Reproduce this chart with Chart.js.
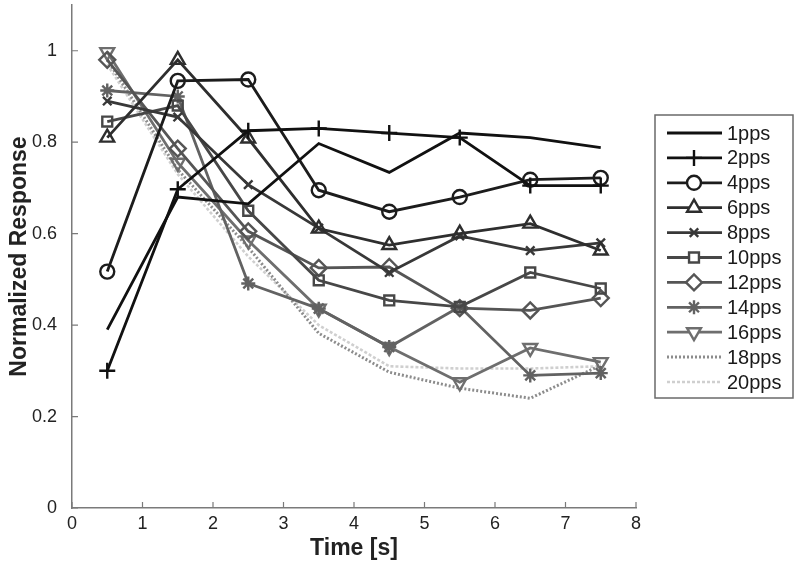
<!DOCTYPE html>
<html>
<head>
<meta charset="utf-8">
<script src="https://cdn.jsdelivr.net/npm/chart.js@4.4.1/dist/chart.umd.min.js"></script>
<style>
  html, body { margin: 0; padding: 0; background: #fff; }
  #wrap { width: 800px; height: 570px; }
</style>
</head>
<body>
<div id="wrap"><canvas id="canvas1" width="800" height="570"></canvas></div>
<script>
// time points (s)
var times = [0.5, 1.5, 2.5, 3.5, 4.5, 5.5, 6.5, 7.5];

// normalized response per stimulation rate
var r1pps  = [0.39, 0.68, 0.665, 0.797, 0.734, 0.82, 0.81, 0.788];
var r2pps  = [0.30, 0.697, 0.825, 0.83, 0.82, 0.81, 0.705, 0.705];
var r4pps  = [0.517, 0.934, 0.937, 0.695, 0.648, 0.68, 0.718, 0.722];
var r6pps  = [0.81, 0.98, 0.808, 0.611, 0.575, 0.60, 0.622, 0.563];
var r8pps  = [0.89, 0.855, 0.707, 0.612, 0.515, 0.595, 0.563, 0.58];
var r10pps = [0.845, 0.88, 0.65, 0.498, 0.454, 0.44, 0.515, 0.48];
var r12pps = [0.98, 0.786, 0.605, 0.525, 0.527, 0.437, 0.432, 0.459];
var r14pps = [0.913, 0.90, 0.491, 0.436, 0.352, 0.44, 0.29, 0.295];
var r16pps = [0.997, 0.755, 0.585, 0.436, 0.352, 0.275, 0.35, 0.319];
var r18pps = [0.98, 0.74, 0.57, 0.382, 0.297, 0.262, 0.24, 0.312];
var r20pps = [0.97, 0.73, 0.55, 0.40, 0.31, 0.305, 0.305, 0.31];

var xTicks = [0, 1, 2, 3, 4, 5, 6, 7, 8];
var yTicks = [0, 0.2, 0.4, 0.6, 0.8, 1];

var FONT = '"Liberation Sans", Arial, sans-serif';

function pts(vals) {
  return vals.map(function(v, i){ return {x: times[i], y: v}; });
}

function series(label, vals, color, style, extra) {
  var ds = {
    label: label,
    data: pts(vals),
    borderColor: color,
    borderWidth: 2.8,
    pointStyle: style || false,
    pointRadius: style ? 7 : 0,
    pointBorderColor: color,
    pointBorderWidth: 2.4,
    pointBackgroundColor: 'rgba(255,255,255,0)',
    pointHoverRadius: 7,
    tension: 0,
    fill: false,
    clip: false
  };
  for (var k in extra) ds[k] = extra[k];
  return ds;
}

var datasets = [
  series('1pps', r1pps, '#111111', null),
  series('2pps', r2pps, '#111111', 'cross', {pointRadius: 8}),
  series('4pps', r4pps, '#1c1c1c', 'circle'),
  series('6pps', r6pps, '#2e2e2e', 'triangle', {pointRadius: 8}),
  series('8pps', r8pps, '#383838', 'crossRot', {pointRadius: 6}),
  series('10pps', r10pps, '#474747', 'rect'),
  series('12pps', r12pps, '#555555', 'rectRot', {pointRadius: 8}),
  series('14pps', r14pps, '#626262', 'star', {pointRadius: 7}),
  series('16pps', r16pps, '#6e6e6e', 'triangle', {pointRadius: 8, pointRotation: 180}),
  series('18pps', r18pps, '#8c8c8c', null, {borderDash: [2, 2], borderWidth: 3}),
  series('20pps', r20pps, '#cfcfcf', null, {borderDash: [3, 2], borderWidth: 2.6})
];

// inward tick marks like the original figure
var innerTicks = {
  id: 'innerTicks',
  afterDraw: function(chart) {
    var ctx = chart.ctx, a = chart.chartArea;
    var xs = chart.scales.x, ys = chart.scales.y;
    ctx.save();
    ctx.strokeStyle = '#7a7a7a';
    ctx.lineWidth = 1.2;
    ctx.beginPath();
    xTicks.forEach(function(t){
      var px = xs.getPixelForValue(t);
      ctx.moveTo(px, a.bottom); ctx.lineTo(px, a.bottom - 6);
    });
    yTicks.forEach(function(t){
      var py = ys.getPixelForValue(t);
      ctx.moveTo(a.left, py); ctx.lineTo(a.left + 6, py);
    });
    ctx.stroke();
    ctx.restore();
  }
};

// boxed legend on the right, line sample with marker
var boxLegend = {
  id: 'boxLegend',
  afterDraw: function(chart) {
    var ctx = chart.ctx;
    var bx = 655, by = 115, bw = 138, bh = 283;
    ctx.save();
    ctx.fillStyle = '#fff';
    ctx.fillRect(bx, by, bw, bh);
    ctx.strokeStyle = '#6a6a6a';
    ctx.lineWidth = 1.5;
    ctx.strokeRect(bx, by, bw, bh);
    chart.data.datasets.forEach(function(ds, i){
      var y = 133 + i * 24.9;
      ctx.strokeStyle = ds.borderColor;
      ctx.lineWidth = ds.borderWidth;
      ctx.setLineDash(ds.borderDash || []);
      ctx.beginPath();
      ctx.moveTo(667, y); ctx.lineTo(722, y);
      ctx.stroke();
      ctx.setLineDash([]);
      if (ds.pointStyle) {
        ctx.lineWidth = ds.pointBorderWidth;
        ctx.fillStyle = '#fff';
        Chart.helpers.drawPoint(ctx, {
          pointStyle: ds.pointStyle,
          rotation: ds.pointRotation || 0,
          radius: ds.pointRadius,
          borderWidth: ds.pointBorderWidth
        }, 694, y);
      }
      ctx.fillStyle = '#1a1a1a';
      ctx.font = '20px ' + FONT;
      ctx.textBaseline = 'middle';
      ctx.fillText(ds.label, 727, y + 1);
    });
    ctx.restore();
  }
};

new Chart(document.getElementById('canvas1'), {
  type: 'line',
  data: { datasets: datasets },
  options: {
    responsive: false,
    animation: false,
    layout: { autoPadding: false, padding: { left: 0, top: 5, right: 164, bottom: 0 } },
    plugins: {
      legend: { display: false },
      tooltip: { enabled: false }
    },
    scales: {
      x: {
        type: 'linear',
        min: 0, max: 8,
        afterBuildTicks: function(s){ s.ticks = xTicks.map(function(v){ return {value: v}; }); },
        afterFit: function(s){ s.height = 62; s.paddingLeft = 0; s.paddingRight = 0; },
        grid: { display: false, drawTicks: false },
        border: { display: true, color: '#7a7a7a', width: 1.5 },
        ticks: {
          color: '#222', padding: 5,
          font: { family: FONT, size: 18 },
          maxRotation: 0
        },
        title: {
          display: true, text: 'Time [s]', color: '#222', padding: { top: 2, bottom: 8 },
          font: { family: FONT, size: 23, weight: 'bold' }
        }
      },
      y: {
        type: 'linear',
        min: 0, max: 1.1,
        afterBuildTicks: function(s){ s.ticks = yTicks.map(function(v){ return {value: v}; }); },
        afterFit: function(s){ s.width = 72; s.paddingTop = 0; s.paddingBottom = 0; },
        grid: { display: false, drawTicks: false },
        border: { display: true, color: '#7a7a7a', width: 1.5 },
        ticks: {
          color: '#222', padding: 15,
          font: { family: FONT, size: 18 },
          callback: function(v){ return String(Math.round(v * 10) / 10); }
        },
        title: {
          display: true, text: 'Normalized Response', color: '#222', padding: { top: 6, bottom: 0 },
          font: { family: FONT, size: 23, weight: 'bold' }
        }
      }
    }
  },
  plugins: [innerTicks, boxLegend]
});
</script>
</body>
</html>
